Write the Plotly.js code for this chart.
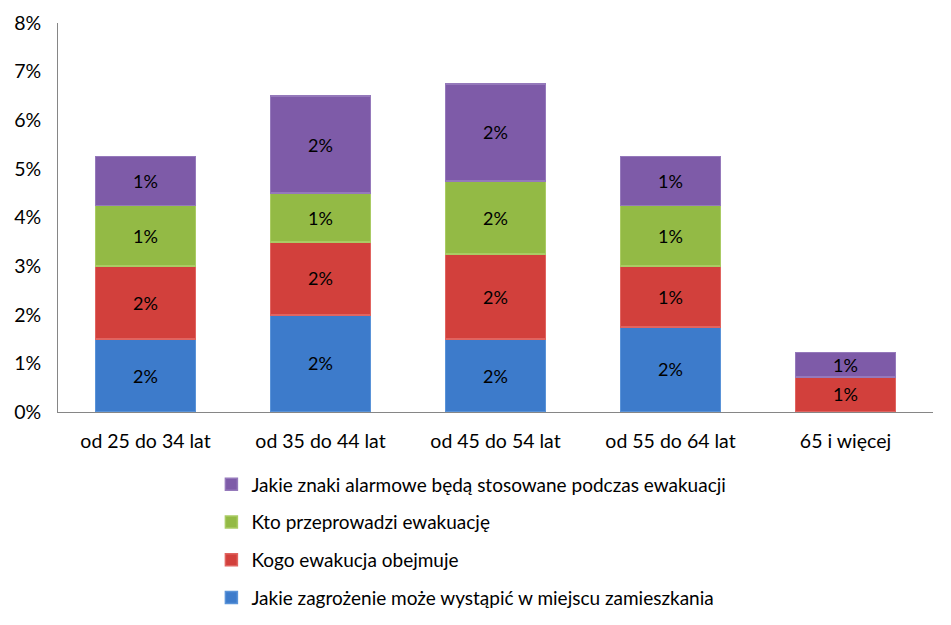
<!DOCTYPE html>
<html><head><meta charset="utf-8">
<script src="https://cdn.plot.ly/plotly-3.0.1.min.js"></script>
<style>html,body{margin:0;background:#fff;overflow:hidden}#c{width:951px;height:640px}</style>
</head><body><div id="c"></div>
<script>
const categories = ['od 25 do 34 lat','od 35 do 44 lat','od 45 do 54 lat','od 55 do 64 lat','65 i więcej'];
const seriesNames = ['Jakie zagrożenie może wystąpić w miejscu zamieszkania','Kogo ewakucja obejmuje','Kto przeprowadzi ewakuację','Jakie znaki alarmowe będą stosowane podczas ewakuacji'];
const zagrozenie = [0.015, 0.020, 0.015, 0.0175, 0];
const kogo = [0.015, 0.015, 0.0175, 0.0125, 0.0072];
const kto = [0.0125, 0.010, 0.015, 0.0125, 0];
const znaki = [0.010, 0.020, 0.020, 0.010, 0.005];
const zagrozenieLabels = ['2%','2%','2%','2%',''];
const kogoLabels = ['2%','2%','2%','1%','1%'];
const ktoLabels = ['1%','1%','2%','1%',''];
const znakiLabels = ['1%','2%','2%','1%','1%'];
const yTicks = [0,0.01,0.02,0.03,0.04,0.05,0.06,0.07,0.08];

const colors = ['#3d7bcb','#d2403c','#93ba45','#7e5ba8'];
const lines = ['#5a93d8','#e06460','#aacb64','#9579bb'];
const vals = [zagrozenie,kogo,kto,znaki];
const labs = [zagrozenieLabels,kogoLabels,ktoLabels,znakiLabels];
const font = 'Lato, "Open Sans", sans-serif';
const data = vals.map((v,i)=>({
  type:'bar', x:categories, y:v, name:seriesNames[i], legendgroup:'g'+i, legendrank:10-i,
  text:labs[i], textposition:'inside', insidetextanchor:'middle', textangle:0,
  textfont:{color:'#000',size:18,family:font}, constraintext:'none',
  marker:{color:colors[i], line:{color:lines[i],width:1.5}}, hoverinfo:'none'
}));
const layout = {
  width:951, height:640, barmode:'stack', bargap:0.43,
  margin:{l:58,r:18,t:23,b:228},
  paper_bgcolor:'#fff', plot_bgcolor:'#fff',
  font:{family:font,size:19.5,color:'#000'},
  showlegend:true,
  legend:{x:0.1753,y:-0.1375,xanchor:'left',yanchor:'top',traceorder:'grouped',tracegroupgap:10,font:{size:19,family:font},itemwidth:30},
  xaxis:{showline:true,linecolor:'#868686',linewidth:1,ticks:'',showgrid:false,zeroline:false,fixedrange:true,ticklabelstandoff:12,tickangle:0},
  yaxis:{range:[0,0.08],tickvals:yTicks,tickformat:'.0%',showline:true,linecolor:'#868686',linewidth:1,ticks:'',showgrid:false,zeroline:false,ticklabelstandoff:12}
};
Plotly.newPlot('c',data,layout,{staticPlot:true});
</script></body></html>
